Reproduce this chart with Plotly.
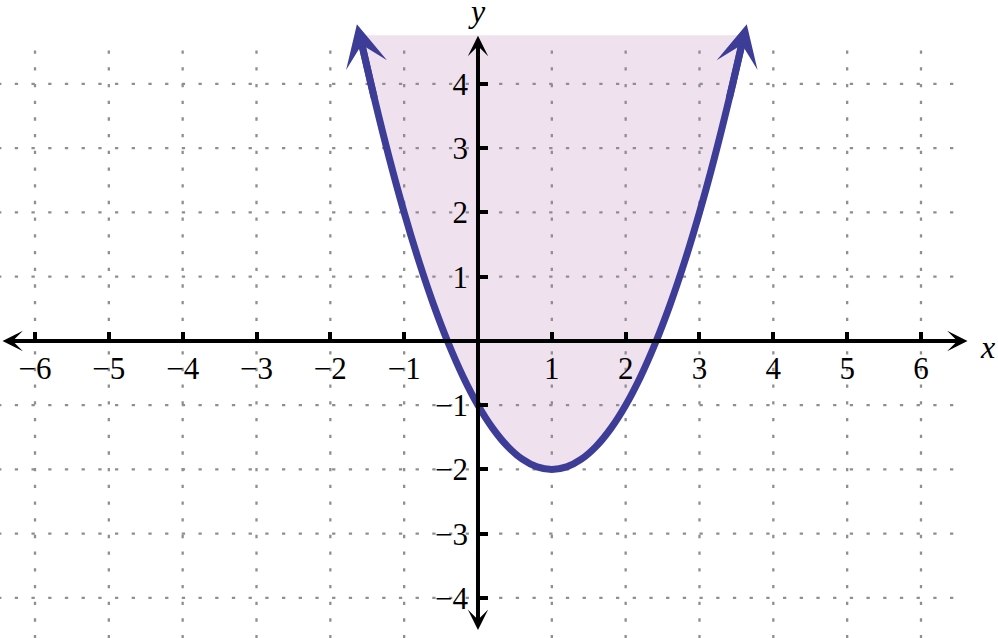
import plotly.graph_objects as go

# ---- data ----
curve_x = [-1.6, -1.4, -1.2, -1.0, -0.8, -0.6, -0.4, -0.2, 0.0, 0.2, 0.4, 0.6, 0.8, 1.0,
           1.2, 1.4, 1.6, 1.8, 2.0, 2.2, 2.4, 2.6, 2.8, 3.0, 3.2, 3.4, 3.6]
curve_y = [4.76, 3.76, 2.84, 2.0, 1.24, 0.56, -0.04, -0.56, -1.0, -1.36, -1.64, -1.84, -1.96, -2.0,
           -1.96, -1.84, -1.64, -1.36, -1.0, -0.56, -0.04, 0.56, 1.24, 2.0, 2.84, 3.76, 4.76]
# arrow tips at the two ends of the parabola (tail point, tip point)
left_arrow = {"tail": (-1.4, 3.76), "tip": (-1.64, 4.93)}
right_arrow = {"tail": (3.4, 3.76), "tip": (3.64, 4.93)}

x_ticks = [-6, -5, -4, -3, -2, -1, 1, 2, 3, 4, 5, 6]
x_ticktext = ["\u22126", "\u22125", "\u22124", "\u22123", "\u22122", "\u22121", "1", "2", "3", "4", "5", "6"]
y_ticks = [-4, -3, -2, -1, 1, 2, 3, 4]
y_ticktext = ["\u22124", "\u22123", "\u22122", "\u22121", "1", "2", "3", "4"]

grid_x = [-6, -5, -4, -3, -2, -1, 1, 2, 3, 4, 5, 6]
grid_y = [-4, -3, -2, -1, 1, 2, 3, 4]

# ---- view ----
X_RANGE = [-6.474, 7.043]
Y_RANGE = [-4.623, 5.307]
GRID_X_SPAN = [-6.5, 6.45]
GRID_Y_SPAN = [-4.7, 4.52]

CURVE_COLOR = "#3d3d98"
FILL_COLOR = "#f0e1ee"
GRID_COLOR = "#8f8f8f"
FONT = "Liberation Serif"

fig = go.Figure()

# shaded region
fig.add_trace(go.Scatter(x=curve_x, y=curve_y, mode="lines", fill="toself",
                         fillcolor=FILL_COLOR, line=dict(width=0, shape="spline"),
                         hoverinfo="skip", showlegend=False))

# grid (dotted)
gx, gy = [], []
for v in grid_x:
    gx += [v, v, None]
    gy += [GRID_Y_SPAN[1], GRID_Y_SPAN[0], None]
for h in grid_y:
    gx += [GRID_X_SPAN[0], GRID_X_SPAN[1], None]
    gy += [h, h, None]
fig.add_trace(go.Scatter(x=gx, y=gy, mode="lines",
                         line=dict(color=GRID_COLOR, width=2.3, dash="3.3px,13.4px"),
                         hoverinfo="skip", showlegend=False))

# parabola
fig.add_trace(go.Scatter(x=curve_x, y=curve_y, mode="lines",
                         line=dict(color=CURVE_COLOR, width=7, shape="spline"),
                         hoverinfo="skip", showlegend=False))

annotations = []
for arr in (left_arrow, right_arrow):
    annotations.append(dict(x=arr["tip"][0], y=arr["tip"][1], ax=arr["tail"][0], ay=arr["tail"][1],
                            xref="x", yref="y", axref="x", ayref="y", text="",
                            showarrow=True, arrowhead=3, arrowsize=1.0, arrowwidth=7,
                            arrowcolor=CURVE_COLOR))
# axes with arrows
annotations.append(dict(x=6.63, y=0, ax=-6.46, ay=0, xref="x", yref="y", axref="x", ayref="y",
                        text="", showarrow=True, arrowhead=3, arrowside="end+start",
                        arrowsize=0.85, arrowwidth=4, arrowcolor="black"))
annotations.append(dict(x=0, y=4.75, ax=0, ay=-4.52, xref="x", yref="y", axref="x", ayref="y",
                        text="", showarrow=True, arrowhead=3, arrowside="end+start",
                        arrowsize=0.85, arrowwidth=4, arrowcolor="black"))
annotations.append(dict(x=6.9, y=-0.09, xref="x", yref="y", text="<i>x</i>", showarrow=False,
                        font=dict(family=FONT, size=32, color="black")))
annotations.append(dict(x=-0.02, y=5.13, xref="x", yref="y", text="<i>y</i>", showarrow=False,
                        font=dict(family=FONT, size=32, color="black")))

xpos = (0 - Y_RANGE[0]) / (Y_RANGE[1] - Y_RANGE[0])
ypos = (0 - X_RANGE[0]) / (X_RANGE[1] - X_RANGE[0])

fig.update_layout(
    width=998, height=638,
    margin=dict(l=0, r=0, t=0, b=0),
    paper_bgcolor="white", plot_bgcolor="white",
    showlegend=False,
    annotations=annotations,
    xaxis=dict(range=X_RANGE, anchor="free", position=xpos, showgrid=False, zeroline=False,
               showline=False, ticks="inside", ticklen=9, tickwidth=4, tickcolor="black",
               tickvals=x_ticks, ticktext=x_ticktext, ticklabelstandoff=6,
               tickfont=dict(family=FONT, size=31, color="black"), fixedrange=True),
    yaxis=dict(range=Y_RANGE, anchor="free", position=ypos, showgrid=False, zeroline=False,
               showline=False, ticks="inside", ticklen=9, tickwidth=4, tickcolor="black",
               tickvals=y_ticks, ticktext=y_ticktext, ticklabelstandoff=10,
               tickfont=dict(family=FONT, size=31, color="black"), fixedrange=True),
)

fig.write_html("out.html", config={"displayModeBar": False},
               post_script="document.body.style.margin='0';document.body.style.overflow='hidden';")
